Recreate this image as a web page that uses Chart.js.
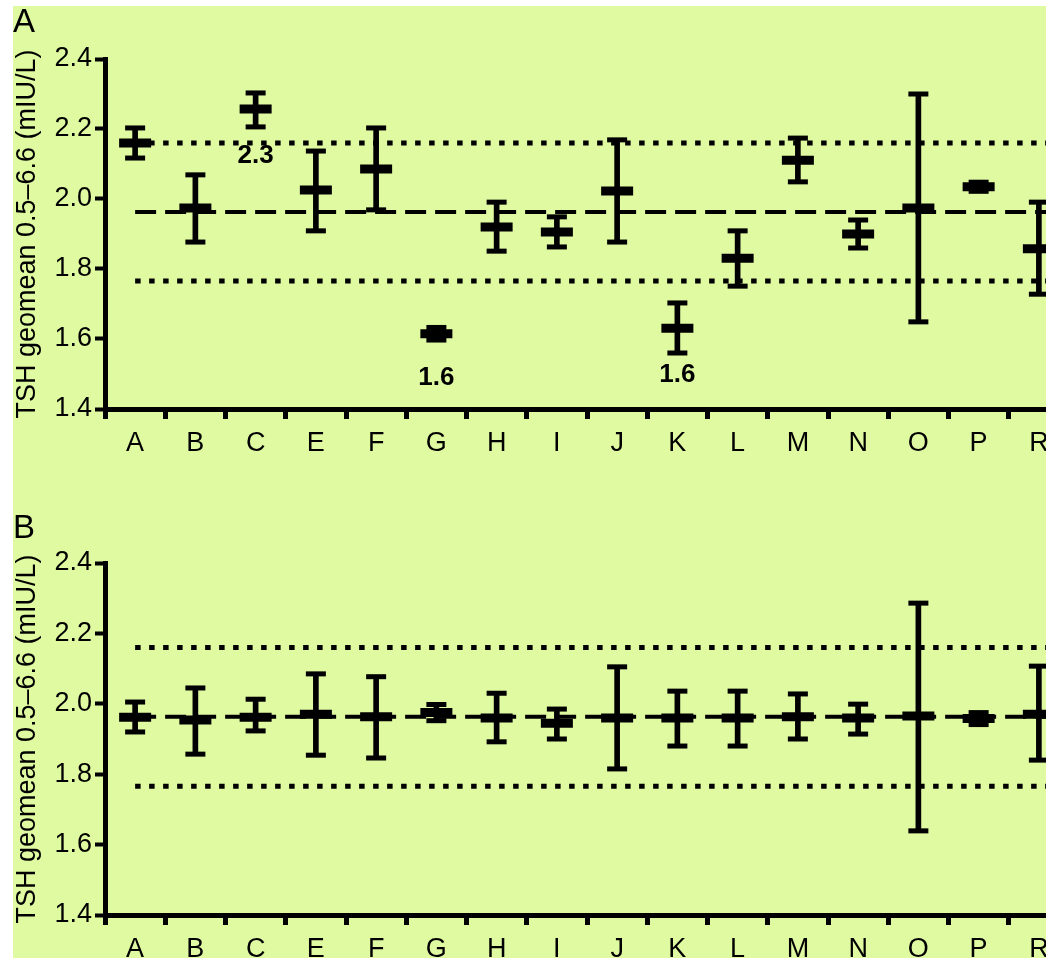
<!DOCTYPE html>
<html>
<head>
<meta charset="utf-8">
<script src="https://cdn.jsdelivr.net/npm/chart.js@4.4.1/dist/chart.umd.min.js"></script>
<style>
  html, body { margin: 0; padding: 0; background: #ffffff; overflow: hidden; }
  #sheet { position: absolute; left: 13px; top: 6px; width: 1120px; height: 960px; background: #e0faa2; }
  #panelA { position: absolute; left: 0; top: 0; }
  #panelB { position: absolute; left: 0; top: 474px; }
</style>
</head>
<body>
<div id="sheet">
  <canvas id="panelA" width="1081" height="463"></canvas>
  <canvas id="panelB" width="1081" height="478"></canvas>
</div>
<script>
// categories along the x axis
const categories = ['A', 'B', 'C', 'E', 'F', 'G', 'H', 'I', 'J', 'K', 'L', 'M', 'N', 'O', 'P', 'R'];
const yTicks = [1.4, 1.6, 1.8, 2.0, 2.2, 2.4];
const yTitle = 'TSH geomean 0.5\u20136.6 (mIU/L)';

// reference lines: upper limit, overall mean, lower limit
const refUpper = 2.16;
const refMean = 1.963;
const refLower = 1.766;

// panel A: geomean with error range
const meanA = [2.16, 1.974, 2.257, 2.026, 2.086, 1.615, 1.92, 1.906, 2.023, 1.631, 1.831, 2.111, 1.90, 1.974, 2.035, 1.858];
const highA = [2.203, 2.069, 2.303, 2.137, 2.203, 1.633, 1.991, 1.949, 2.169, 1.703, 1.909, 2.174, 1.94, 2.30, 2.048, 1.991];
const lowA = [2.117, 1.877, 2.206, 1.909, 1.969, 1.597, 1.851, 1.863, 1.877, 1.56, 1.751, 2.049, 1.86, 1.649, 2.022, 1.728];

// value labels in panel A
const noteCatsA = ['C', 'G', 'K'];
const noteTextA = ['2.3', '1.6', '1.6'];
const noteYA = [2.123, 1.49, 1.497];

// panel B
const meanB = [1.962, 1.954, 1.962, 1.97, 1.963, 1.975, 1.96, 1.945, 1.96, 1.96, 1.96, 1.963, 1.96, 1.965, 1.958, 1.97];
const highB = [2.005, 2.045, 2.013, 2.085, 2.077, 1.998, 2.03, 1.985, 2.105, 2.036, 2.036, 2.028, 1.999, 2.286, 1.975, 2.107];
const lowB = [1.92, 1.857, 1.923, 1.854, 1.846, 1.952, 1.892, 1.90, 1.815, 1.88, 1.88, 1.90, 1.914, 1.639, 1.941, 1.84];

Chart.defaults.font.family = '"Liberation Sans", Arial, sans-serif';
Chart.defaults.color = '#000';

const refLinesPlugin = {
    id: 'refLines',
    beforeDatasetsDraw(chart) {
        const { ctx, chartArea, scales } = chart;
        const x0 = scales.x.getPixelForValue(0);
        const lines = [
            { v: refUpper, dash: [5.5, 8.5], width: 5 },
            { v: refMean, dash: [21, 9], width: 4 },
            { v: refLower, dash: [5.5, 8.5], width: 5 },
        ];
        ctx.save();
        ctx.strokeStyle = '#000';
        lines.forEach(l => {
            const y = scales.y.getPixelForValue(l.v);
            ctx.lineWidth = l.width;
            ctx.setLineDash(l.dash);
            ctx.beginPath();
            ctx.moveTo(x0, y);
            ctx.lineTo(chartArea.right, y);
            ctx.stroke();
        });
        ctx.restore();
    }
};

const notesPlugin = {
    id: 'notes',
    afterDatasetsDraw(chart, args, opts) {
        if (!opts.cats) return;
        const { ctx, scales } = chart;
        ctx.save();
        ctx.fillStyle = '#000';
        ctx.font = 'bold 26px "Liberation Sans", Arial, sans-serif';
        ctx.textAlign = 'center';
        ctx.textBaseline = 'middle';
        opts.cats.forEach((c, i) => {
            const x = scales.x.getPixelForValue(categories.indexOf(c));
            const y = scales.y.getPixelForValue(opts.ys[i]);
            ctx.fillText(opts.texts[i], x, y);
        });
        ctx.restore();
    }
};

function makePanel(canvasId, label, means, lows, highs, titlePad, xHeight, notes) {
    const ranges = lows.map((lo, i) => [lo, highs[i]]);
    return new Chart(document.getElementById(canvasId), {
        type: 'bar',
        data: {
            labels: categories,
            datasets: [
                {
                    type: 'line',
                    data: means,
                    showLine: false,
                    pointStyle: 'line',
                    pointRadius: 16,
                    pointBorderWidth: 9,
                    pointBorderColor: '#000',
                },
                {
                    type: 'line',
                    data: highs,
                    showLine: false,
                    pointStyle: 'line',
                    pointRadius: 10,
                    pointBorderWidth: 5,
                    pointBorderColor: '#000',
                },
                {
                    type: 'line',
                    data: lows,
                    showLine: false,
                    pointStyle: 'line',
                    pointRadius: 10,
                    pointBorderWidth: 5,
                    pointBorderColor: '#000',
                },
                {
                    type: 'bar',
                    data: ranges,
                    barThickness: 5,
                    backgroundColor: '#000',
                    borderWidth: 0,
                },
            ],
        },
        options: {
            responsive: false,
            animation: false,
            events: [],
            layout: { padding: 0 },
            scales: {
                x: {
                    type: 'category',
                    offset: true,
                    grid: {
                        offset: true,
                        drawOnChartArea: false,
                        tickLength: 10,
                        tickWidth: 5,
                        tickColor: '#000',
                    },
                    border: { display: true, width: 5, color: '#000' },
                    ticks: { font: { size: 27 }, padding: 8, color: '#000' },
                    afterFit: scale => { scale.height = xHeight; },
                },
                y: {
                    min: 1.4,
                    max: 2.4,
                    afterBuildTicks: scale => { scale.ticks = yTicks.map(v => ({ value: v })); },
                    grid: {
                        drawOnChartArea: false,
                        tickLength: 10,
                        tickWidth: 4,
                        tickColor: '#000',
                    },
                    border: { display: true, width: 5, color: '#000' },
                    ticks: {
                        font: { size: 27 },
                        padding: 3,
                        color: '#000',
                        callback: v => v.toFixed(1),
                    },
                    title: {
                        display: true,
                        text: yTitle,
                        font: { size: 27, lineHeight: 1 },
                        padding: { top: 1, bottom: 0 },
                        color: '#000',
                    },
                    afterFit: scale => { scale.width = 92; },
                },
            },
            plugins: {
                legend: { display: false },
                tooltip: { enabled: false },
                title: {
                    display: true,
                    text: label,
                    align: 'start',
                    color: '#000',
                    font: { size: 33, weight: 'normal', lineHeight: 1 },
                    padding: titlePad,
                },
                notes: notes || {},
            },
        },
        plugins: [refLinesPlugin, notesPlugin],
    });
}

makePanel('panelA', 'A', meanA, lowA, highA, { top: 0, bottom: 20 }, 60,
    { cats: noteCatsA, texts: noteTextA, ys: noteYA });
makePanel('panelB', 'B', meanB, lowB, highB, { top: 32, bottom: 18 }, 43, null);
</script>
</body>
</html>
